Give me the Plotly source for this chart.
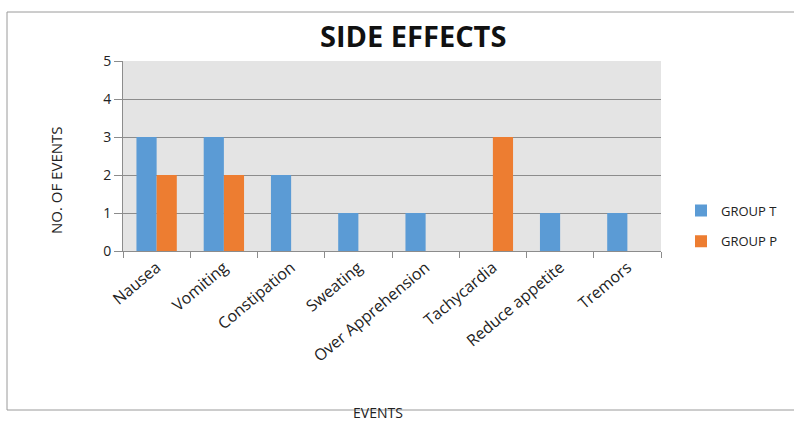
import plotly.graph_objects as go

categories = ["Nausea", "Vomiting", "Constipation", "Sweating", "Over Apprehension",
              "Tachycardia", "Reduce appetite", "Tremors"]
group_t = [3, 3, 2, 1, 1, 0, 1, 1]
group_p = [2, 2, 0, 0, 0, 3, 0, 0]
y_ticks = [0, 1, 2, 3, 4, 5]

font = "Open Sans"
L, R, T, B = 123, 133, 61, 185
W, H = 794, 436
plot_w = W - L - R
plot_h = H - T - B


def px_x(x):
    return (x - L) / plot_w


def px_y(y):
    return (H - B - y) / plot_h


fig = go.Figure()
fig.add_trace(go.Bar(x=categories, y=group_t, name="GROUP T", legendgroup="t",
                     marker=dict(color="#5b9bd5", line=dict(width=0))))
fig.add_trace(go.Bar(x=categories, y=group_p, name="GROUP P", legendgroup="p",
                     marker=dict(color="#ed7d31", line=dict(width=0))))

fig.update_layout(
    width=W, height=H,
    margin=dict(l=L, r=R, t=T, b=B, autoexpand=False),
    paper_bgcolor="white", plot_bgcolor="#e4e4e4",
    barmode="group", bargap=0.4, bargroupgap=0,
    font=dict(family=font, size=13, color="#222"),
    showlegend=True,
    legend=dict(x=px_x(681), y=px_y(226), xanchor="left", yanchor="middle",
                font=dict(family=font, size=13, color="#222"),
                itemwidth=30, tracegroupgap=11, bgcolor="rgba(0,0,0,0)"),
    xaxis=dict(tickangle=-40, ticks="outside", tickson="boundaries", ticklen=6,
               tickcolor="#8c8c8c", showline=True, linecolor="#8c8c8c", linewidth=1,
               showgrid=False, tickfont=dict(family=font, size=16, color="#222")),
    yaxis=dict(range=[0, 5], tickvals=y_ticks, ticks="outside", ticklen=8,
               tickcolor="#8c8c8c", showline=True, linecolor="#8c8c8c",
               gridcolor="#8c8c8c", gridwidth=1, zeroline=False,
               tickfont=dict(family=font, size=14, color="#222")),
    annotations=[
        dict(text="<b>SIDE EFFECTS</b>", x=px_x(413), y=px_y(35), xref="paper", yref="paper",
             xanchor="center", yanchor="middle",
             showarrow=False, font=dict(family=font, size=29, color="#111")),
        dict(text="NO. OF EVENTS", x=px_x(56), y=px_y(180), xref="paper", yref="paper",
             xanchor="center", yanchor="middle",
             textangle=-90, showarrow=False, font=dict(family=font, size=15, color="#222")),
        dict(text="EVENTS", x=px_x(378), y=px_y(412), xref="paper", yref="paper",
             xanchor="center", yanchor="middle",
             showarrow=False, font=dict(family=font, size=14, color="#222")),
    ],
)

# outer chart frame
fig.add_shape(type="rect", xref="paper", yref="paper",
              x0=px_x(7), x1=px_x(800), y0=px_y(410), y1=px_y(12),
              line=dict(color="#9a9a9a", width=1), fillcolor="rgba(0,0,0,0)", layer="below")

fig.write_html("out.html", config={"displayModeBar": False},
               post_script="document.body.style.margin='0px';")
